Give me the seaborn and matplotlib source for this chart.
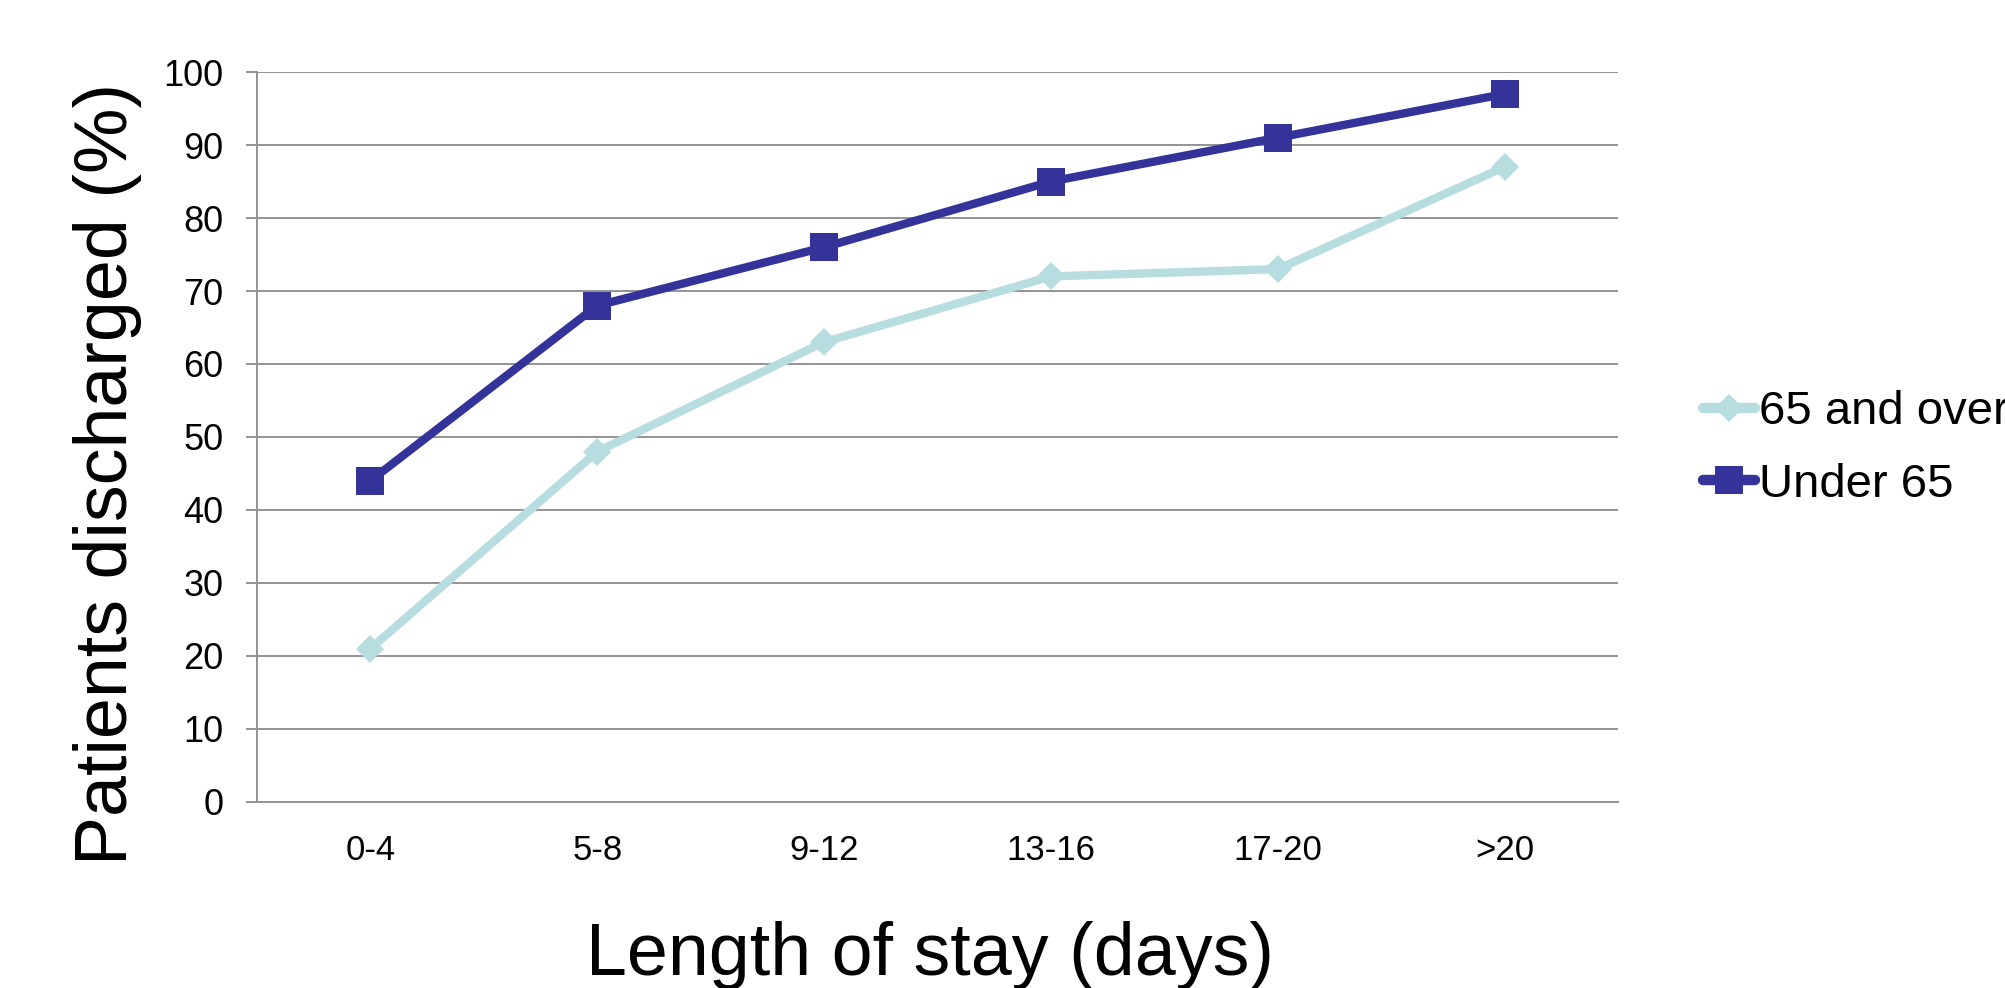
import pandas as pd
import seaborn as sns
import matplotlib.pyplot as plt

# chart data
stay = ['0-4', '5-8', '9-12', '13-16', '17-20', '>20']
over_65 = [21, 48, 63, 72, 73, 87]
under_65 = [44, 68, 76, 85, 91, 97]
groups = ['65 and over', 'Under 65']

df = pd.DataFrame({
    'stay': stay * 2,
    'pos': list(range(len(stay))) * 2,
    'pct': over_65 + under_65,
    'group': [groups[0]] * len(stay) + [groups[1]] * len(stay),
})

sns.set_style('white')
plt.rcParams['font.family'] = ['Liberation Sans', 'DejaVu Sans']
plt.rcParams['text.color'] = 'black'
plt.rcParams['xtick.labelcolor'] = 'black'
plt.rcParams['ytick.labelcolor'] = 'black'
plt.rcParams['axes.labelcolor'] = 'black'

grid_col = '#939393'
colors = {'65 and over': '#B7DDE0', 'Under 65': '#333399'}

fig = plt.figure(figsize=(20.06, 9.88), dpi=100)
ax = fig.add_axes([0.1281, 0.1883, 0.6785, 0.7388])

sns.lineplot(data=df, x='pos', y='pct', hue='group', hue_order=groups,
             style='group', style_order=groups, markers={'65 and over': 'D', 'Under 65': 's'},
             dashes=False, palette=colors, sort=False, legend=False, ax=ax,
             linewidth=6, markeredgewidth=0, zorder=3)
for i, (line, m) in enumerate(zip(ax.lines, [14, 19.5])):
    line.set_markersize(m)
    line.set_label(groups[i])
    line.set_solid_capstyle('round')

ax.set_xlim(-0.5, len(stay) - 0.5)
ax.set_ylim(0, 100)
ax.set_yticks(range(0, 101, 10))
ax.set_xticks(range(len(stay)))
ax.set_xticklabels(stay)
ax.yaxis.grid(True, color=grid_col, linewidth=1.4)
ax.xaxis.grid(False)
ax.tick_params(axis='y', labelsize=26, length=8, width=1.4, color=grid_col, pad=16, left=True)
ax.tick_params(axis='x', labelsize=25, length=0, pad=23)
for s in ['top', 'right']:
    ax.spines[s].set_visible(False)
for s in ['left', 'bottom']:
    ax.spines[s].set_color(grid_col)
    ax.spines[s].set_linewidth(1.4)

ax.set_xlabel('Length of stay (days)', fontsize=53)
ax.set_ylabel('Patients discharged (%)', fontsize=53)
ax.xaxis.set_label_coords(0.4945, -0.163)
ax.yaxis.set_label_coords(-0.0845, 0.45)

leg = ax.legend(handles=ax.lines[:2], labels=groups, loc='center left',
                bbox_to_anchor=(0.849, 0.546), bbox_transform=fig.transFigure,
                frameon=False, fontsize=34, handlelength=1.1, handletextpad=0.08,
                borderpad=0, borderaxespad=0, labelspacing=0.6, numpoints=1)
for h in leg.legend_handles:
    h.set_linewidth(7.5)

fig.savefig('out.png', dpi=100)
